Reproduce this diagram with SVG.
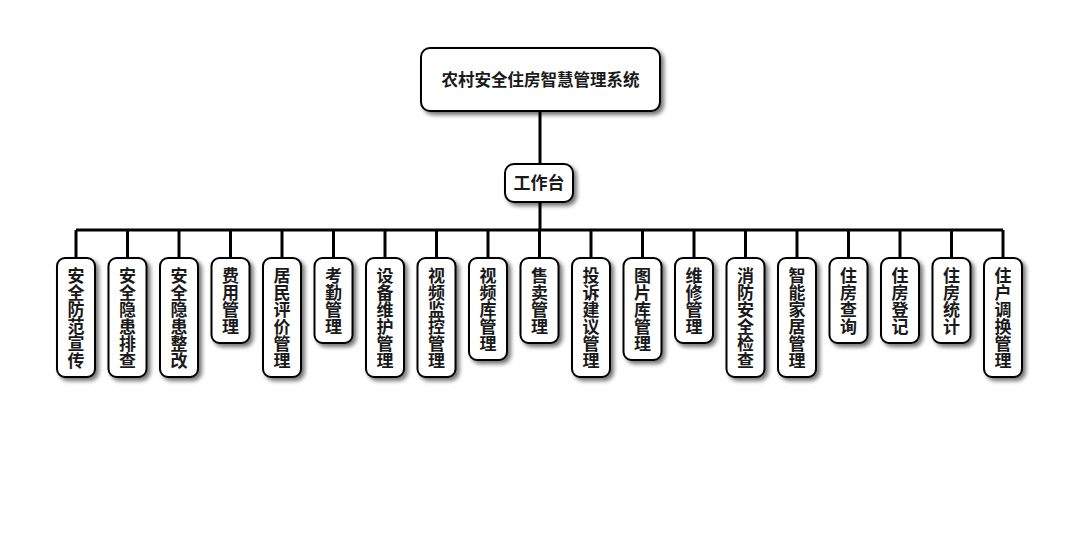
<svg xmlns="http://www.w3.org/2000/svg" width="1080" height="560" viewBox="0 0 1080 560">
<defs>
<filter id="sh" x="-30%" y="-30%" width="160%" height="160%">
<feGaussianBlur in="SourceAlpha" stdDeviation="2"/>
<feOffset dx="3" dy="3" result="b"/>
<feComponentTransfer><feFuncA type="linear" slope="0.55"/></feComponentTransfer>
<feMerge><feMergeNode/><feMergeNode in="SourceGraphic"/></feMerge>
</filter>
<style>
.box{fill:#fff;stroke:#000;stroke-width:2;filter:url(#sh)}
.t{font-family:"Noto Sans CJK SC","Noto Sans",sans-serif;font-size:17px;font-weight:bold;fill:#1a1a1a;text-anchor:middle}
.c{fill:none;stroke:#000;stroke-width:3}
</style>
</defs>
<rect width="1080" height="560" fill="#fff"/>
<g id="connectors">
<path class="c" d="M540,111V164M540,202V230M76,230H1003M76,230V258M127.5,230V258M179,230V258M230.5,230V258M282,230V258M333.5,230V258M385,230V258M436.5,230V258M488,230V258M539.5,230V258M591,230V258M642.5,230V258M694,230V258M745.5,230V258M797,230V258M848.5,230V258M900,230V258M951.5,230V258M1003,230V258"/>
</g>
<g id="root"><rect class="box" x="421" y="48" width="239" height="63" rx="9"/><text class="t" x="540.5" y="86" style="font-size:16.5px">农村安全住房智慧管理系统</text></g>
<g id="workbench"><rect class="box" x="505" y="164" width="68" height="38" rx="9"/><text class="t" x="539" y="189">工作台</text></g>
<g id="n1"><rect class="box" x="57" y="258" width="38" height="119" rx="8"/><text class="t"><tspan x="76" y="281.5">安</tspan><tspan x="76" y="298.5">全</tspan><tspan x="76" y="315.5">防</tspan><tspan x="76" y="332.5">范</tspan><tspan x="76" y="349.5">宣</tspan><tspan x="76" y="366.5">传</tspan></text></g>
<g id="n2"><rect class="box" x="108.5" y="258" width="38" height="119" rx="8"/><text class="t"><tspan x="127.5" y="281.5">安</tspan><tspan x="127.5" y="298.5">全</tspan><tspan x="127.5" y="315.5">隐</tspan><tspan x="127.5" y="332.5">患</tspan><tspan x="127.5" y="349.5">排</tspan><tspan x="127.5" y="366.5">查</tspan></text></g>
<g id="n3"><rect class="box" x="160" y="258" width="38" height="119" rx="8"/><text class="t"><tspan x="179" y="281.5">安</tspan><tspan x="179" y="298.5">全</tspan><tspan x="179" y="315.5">隐</tspan><tspan x="179" y="332.5">患</tspan><tspan x="179" y="349.5">整</tspan><tspan x="179" y="366.5">改</tspan></text></g>
<g id="n4"><rect class="box" x="211.5" y="258" width="38" height="85" rx="8"/><text class="t"><tspan x="230.5" y="281.5">费</tspan><tspan x="230.5" y="298.5">用</tspan><tspan x="230.5" y="315.5">管</tspan><tspan x="230.5" y="332.5">理</tspan></text></g>
<g id="n5"><rect class="box" x="263" y="258" width="38" height="119" rx="8"/><text class="t"><tspan x="282" y="281.5">居</tspan><tspan x="282" y="298.5">民</tspan><tspan x="282" y="315.5">评</tspan><tspan x="282" y="332.5">价</tspan><tspan x="282" y="349.5">管</tspan><tspan x="282" y="366.5">理</tspan></text></g>
<g id="n6"><rect class="box" x="314.5" y="258" width="38" height="85" rx="8"/><text class="t"><tspan x="333.5" y="281.5">考</tspan><tspan x="333.5" y="298.5">勤</tspan><tspan x="333.5" y="315.5">管</tspan><tspan x="333.5" y="332.5">理</tspan></text></g>
<g id="n7"><rect class="box" x="366" y="258" width="38" height="119" rx="8"/><text class="t"><tspan x="385" y="281.5">设</tspan><tspan x="385" y="298.5">备</tspan><tspan x="385" y="315.5">维</tspan><tspan x="385" y="332.5">护</tspan><tspan x="385" y="349.5">管</tspan><tspan x="385" y="366.5">理</tspan></text></g>
<g id="n8"><rect class="box" x="417.5" y="258" width="38" height="119" rx="8"/><text class="t"><tspan x="436.5" y="281.5">视</tspan><tspan x="436.5" y="298.5">频</tspan><tspan x="436.5" y="315.5">监</tspan><tspan x="436.5" y="332.5">控</tspan><tspan x="436.5" y="349.5">管</tspan><tspan x="436.5" y="366.5">理</tspan></text></g>
<g id="n9"><rect class="box" x="469" y="258" width="38" height="102" rx="8"/><text class="t"><tspan x="488" y="281.5">视</tspan><tspan x="488" y="298.5">频</tspan><tspan x="488" y="315.5">库</tspan><tspan x="488" y="332.5">管</tspan><tspan x="488" y="349.5">理</tspan></text></g>
<g id="n10"><rect class="box" x="520.5" y="258" width="38" height="85" rx="8"/><text class="t"><tspan x="539.5" y="281.5">售</tspan><tspan x="539.5" y="298.5">卖</tspan><tspan x="539.5" y="315.5">管</tspan><tspan x="539.5" y="332.5">理</tspan></text></g>
<g id="n11"><rect class="box" x="572" y="258" width="38" height="119" rx="8"/><text class="t"><tspan x="591" y="281.5">投</tspan><tspan x="591" y="298.5">诉</tspan><tspan x="591" y="315.5">建</tspan><tspan x="591" y="332.5">议</tspan><tspan x="591" y="349.5">管</tspan><tspan x="591" y="366.5">理</tspan></text></g>
<g id="n12"><rect class="box" x="623.5" y="258" width="38" height="102" rx="8"/><text class="t"><tspan x="642.5" y="281.5">图</tspan><tspan x="642.5" y="298.5">片</tspan><tspan x="642.5" y="315.5">库</tspan><tspan x="642.5" y="332.5">管</tspan><tspan x="642.5" y="349.5">理</tspan></text></g>
<g id="n13"><rect class="box" x="675" y="258" width="38" height="85" rx="8"/><text class="t"><tspan x="694" y="281.5">维</tspan><tspan x="694" y="298.5">修</tspan><tspan x="694" y="315.5">管</tspan><tspan x="694" y="332.5">理</tspan></text></g>
<g id="n14"><rect class="box" x="726.5" y="258" width="38" height="119" rx="8"/><text class="t"><tspan x="745.5" y="281.5">消</tspan><tspan x="745.5" y="298.5">防</tspan><tspan x="745.5" y="315.5">安</tspan><tspan x="745.5" y="332.5">全</tspan><tspan x="745.5" y="349.5">检</tspan><tspan x="745.5" y="366.5">查</tspan></text></g>
<g id="n15"><rect class="box" x="778" y="258" width="38" height="119" rx="8"/><text class="t"><tspan x="797" y="281.5">智</tspan><tspan x="797" y="298.5">能</tspan><tspan x="797" y="315.5">家</tspan><tspan x="797" y="332.5">居</tspan><tspan x="797" y="349.5">管</tspan><tspan x="797" y="366.5">理</tspan></text></g>
<g id="n16"><rect class="box" x="829.5" y="258" width="38" height="85" rx="8"/><text class="t"><tspan x="848.5" y="281.5">住</tspan><tspan x="848.5" y="298.5">房</tspan><tspan x="848.5" y="315.5">查</tspan><tspan x="848.5" y="332.5">询</tspan></text></g>
<g id="n17"><rect class="box" x="881" y="258" width="38" height="85" rx="8"/><text class="t"><tspan x="900" y="281.5">住</tspan><tspan x="900" y="298.5">房</tspan><tspan x="900" y="315.5">登</tspan><tspan x="900" y="332.5">记</tspan></text></g>
<g id="n18"><rect class="box" x="932.5" y="258" width="38" height="85" rx="8"/><text class="t"><tspan x="951.5" y="281.5">住</tspan><tspan x="951.5" y="298.5">房</tspan><tspan x="951.5" y="315.5">统</tspan><tspan x="951.5" y="332.5">计</tspan></text></g>
<g id="n19"><rect class="box" x="984" y="258" width="38" height="119" rx="8"/><text class="t"><tspan x="1003" y="281.5">住</tspan><tspan x="1003" y="298.5">户</tspan><tspan x="1003" y="315.5">调</tspan><tspan x="1003" y="332.5">换</tspan><tspan x="1003" y="349.5">管</tspan><tspan x="1003" y="366.5">理</tspan></text></g>
</svg>
